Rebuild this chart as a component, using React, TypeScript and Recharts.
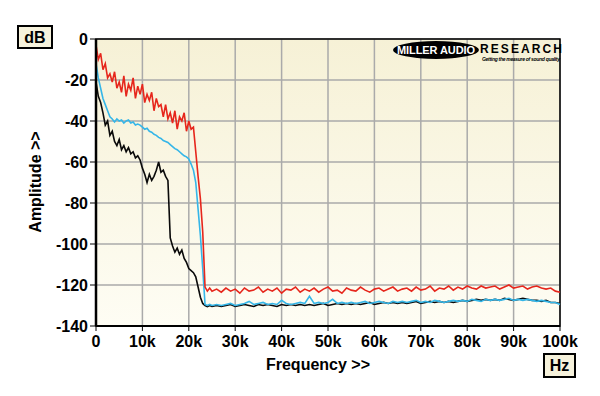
import React from "react";
import { LineChart, Line, XAxis, YAxis, CartesianGrid, ReferenceArea } from "recharts";

// frequency in kHz: 0.5k steps up to 25k, then 1k steps
const freqs = [
  0, 0.5, 1, 1.5, 2, 2.5, 3, 3.5, 4, 4.5, 5, 5.5, 6, 6.5, 7, 7.5, 8, 8.5, 9, 9.5,
  10, 10.5, 11, 11.5, 12, 12.5, 13, 13.5, 14, 14.5, 15, 15.5, 16, 16.5, 17, 17.5, 18, 18.5, 19, 19.5,
  20, 20.5, 21, 21.5, 22, 22.5, 23, 23.5, 24, 24.5, 25,
  26, 27, 28, 29, 30, 31, 32, 33, 34, 35, 36, 37, 38, 39, 40, 41, 42, 43, 44, 45,
  46, 47, 48, 49, 50, 51, 52, 53, 54, 55, 56, 57, 58, 59, 60, 61, 62, 63, 64, 65,
  66, 67, 68, 69, 70, 71, 72, 73, 74, 75, 76, 77, 78, 79, 80, 81, 82, 83, 84, 85,
  86, 87, 88, 89, 90, 91, 92, 93, 94, 95, 96, 97, 98, 99, 100,
];

const redDb = [
  -3, -10, -7, -15, -12, -19, -17, -21, -16, -24,
  -21, -26, -18, -28, -22, -25, -19, -29, -23, -27,
  -22, -31, -27, -30, -26, -35, -29, -33, -32, -38,
  -32, -39, -36, -41, -35, -44, -38, -40, -36, -45,
  -40, -44, -43, -55, -67, -78, -94, -121, -123, -121.5,
  -123,
  -122, -123.5, -121.5, -123, -122, -124, -121.5, -123, -122.5, -121,
  -123.5, -122, -123, -121.5, -124, -122, -122.5, -121, -123.5, -122,
  -123, -121.5, -123.5, -122, -121, -123, -122.5, -124, -121.5, -122.5,
  -123, -121, -122.5, -123.5, -122, -121.5, -123, -122, -121, -123,
  -122, -121.5, -123, -121, -122.5, -122, -120.5, -123, -121.5, -122,
  -120.5, -122.5, -121, -122, -120.5, -121.5, -122, -120.5, -121.5, -121,
  -120.5, -122, -121, -120, -121.5, -121, -120.5, -122, -121, -120.5,
  -121.5, -122, -121.5, -123, -123.5,
];

const cyanDb = [
  -12, -19, -24, -29, -32, -35, -38, -39, -40.5, -39,
  -40, -39.5, -41, -40, -39.5, -41, -40.5, -42, -41.5, -42,
  -43, -44, -43.5, -45, -45.5, -46.5, -47, -48, -48.5, -49.5,
  -50, -50.5, -51.5, -52.5, -53.5, -54, -55, -56, -57, -57.5,
  -58.5, -61, -64, -70, -83, -96, -112, -129.5, -130, -129.5,
  -130,
  -129.5, -130, -129.5, -129, -130, -129.5, -129, -128, -129.5, -129,
  -128.5, -129.5, -129, -129.5, -127.5, -129, -129.5, -129, -128.5, -129,
  -125.5, -129, -128.5, -129, -128.5, -127, -129, -128.5, -129, -128.5,
  -129, -128.5, -128, -129, -128.5, -128, -128.5, -129, -128, -128.5,
  -128, -128.5, -128, -127.5, -128.5, -128, -128.5, -127.5, -128, -128.5,
  -128, -127.5, -128, -127.5, -128, -127, -127.5, -128, -127, -127.5,
  -127, -127.5, -127, -126.5, -127.5, -127, -127.5, -127, -127.5, -128,
  -127.5, -128, -128.5, -128.5, -129.5,
];

const blackDb = [
  -21, -28, -31, -36, -42, -40, -47, -45, -50, -52,
  -49, -54, -52, -55, -53, -56, -55, -58, -57, -59,
  -63, -66, -70, -66, -69, -67, -64, -60, -65, -64,
  -67, -69, -97, -101, -104, -102, -105, -103, -107, -109,
  -112, -113, -114, -116, -121, -126, -129, -130, -130.5, -130,
  -130.5,
  -130, -130.5, -130, -129.5, -130.5, -130, -129.5, -130, -130.5, -129.5,
  -130, -129.5, -130, -130.5, -129.5, -130, -129.5, -130, -129.5, -130,
  -129.5, -130, -129.5, -129, -130, -129.5, -129, -129.5, -129, -129.5,
  -129, -129.5, -129, -128.5, -129.5, -129, -128.5, -129, -128.5, -129,
  -128.5, -129, -128.5, -128, -129, -128.5, -128, -128.5, -128, -128.5,
  -128, -128.5, -128, -127.5, -128, -127.5, -127, -127.5, -127, -127.5,
  -127, -127.5, -126.5, -127, -127.5, -127, -126.5, -127, -127.5, -127.5,
  -128, -127.5, -128.5, -128.5, -129,
];

const xTicks = [0, 10, 20, 30, 40, 50, 60, 70, 80, 90, 100];
const yTicks = [0, -20, -40, -60, -80, -100, -120, -140];

const data = freqs.map((f, i) => ({ f, red: redDb[i], cyan: cyanDb[i], black: blackDb[i] }));

const FONT = '"Liberation Sans", Arial, sans-serif';
const tickStyle = { fontSize: 16, fontWeight: 700, fill: "#000", fontFamily: FONT };

export default function App() {
  return (
    <div style={{ position: "absolute", left: 0, top: 0, width: 600, height: 396, background: "#fff", fontFamily: FONT }}>
      <LineChart width={600} height={396} data={data} margin={{ top: 39, right: 40, bottom: 40, left: 0 }}>
        <defs>
          <linearGradient id="plotBg" x1="0" y1="0" x2="0" y2="1">
            <stop offset="0%" stopColor="#f6f1d6" />
            <stop offset="100%" stopColor="#fefdf4" />
          </linearGradient>
        </defs>
        <CartesianGrid fill="url(#plotBg)" stroke="#aaaaaa" strokeWidth={1.5} />
        <XAxis
          type="number"
          dataKey="f"
          domain={[0, 100]}
          ticks={xTicks}
          tickFormatter={(v) => (v === 0 ? "0" : `${v}k`)}
          height={30}
          tick={tickStyle}
          tickSize={5}
          tickMargin={5}
          axisLine={{ stroke: "#000", strokeWidth: 2 }}
          tickLine={{ stroke: "#000" }}
          interval={0}
        />
        <YAxis
          type="number"
          domain={[-140, 0]}
          ticks={yTicks}
          width={96}
          tick={tickStyle}
          tickSize={6}
          tickMargin={2}
          axisLine={{ stroke: "#000", strokeWidth: 2.5 }}
          tickLine={{ stroke: "#000" }}
          interval={0}
        />
        <Line type="linear" dataKey="black" stroke="#0a0a0a" strokeWidth={1.6} dot={false} isAnimationActive={false} />
        <Line type="linear" dataKey="cyan" stroke="#35b6e8" strokeWidth={1.6} dot={false} isAnimationActive={false} />
        <Line type="linear" dataKey="red" stroke="#e6261c" strokeWidth={1.6} dot={false} isAnimationActive={false} />
        <ReferenceArea x1={0} x2={100} y1={-140} y2={0} fill="none" stroke="#000" strokeWidth={1.5} ifOverflow="visible" />
      </LineChart>
      <svg width={600} height={396} style={{ position: "absolute", left: 0, top: 0, pointerEvents: "none" }}>
        <rect x={18} y={26} width={34} height={22} fill="#f6f2dc" stroke="#000" strokeWidth={2} />
        <text x={35} y={43} textAnchor="middle" fontSize={16} fontWeight={700} fontFamily={FONT}>dB</text>
        <rect x={544} y={354} width={31} height={23} fill="#f6f2dc" stroke="#000" strokeWidth={2} />
        <text x={559.5} y={371} textAnchor="middle" fontSize={16} fontWeight={700} fontFamily={FONT}>Hz</text>
        <text x={318} y={370} textAnchor="middle" fontSize={16} fontWeight={700} fontFamily={FONT}>Frequency &gt;&gt;</text>
        <text x={41} y={182} textAnchor="middle" fontSize={16} fontWeight={700} fontFamily={FONT} transform="rotate(-90 41 182)">Amplitude &gt;&gt;</text>
        <ellipse cx={436} cy={50} rx={43} ry={9} fill="#000" />
        <text x={436} y={54} textAnchor="middle" fontSize={11} fontWeight={900} fill="#fff" fontFamily={FONT} textLength={78}>MILLER AUDIO</text>
        <text x={480} y={53} fontSize={12} fontWeight={900} fill="#000" fontFamily={FONT} textLength={82}>RESEARCH</text>
        <text x={482} y={60.5} fontSize={5} fontWeight={700} fontStyle="italic" fill="#000" fontFamily={FONT} textLength={78}>Getting the measure of sound quality</text>
      </svg>
    </div>
  );
}
